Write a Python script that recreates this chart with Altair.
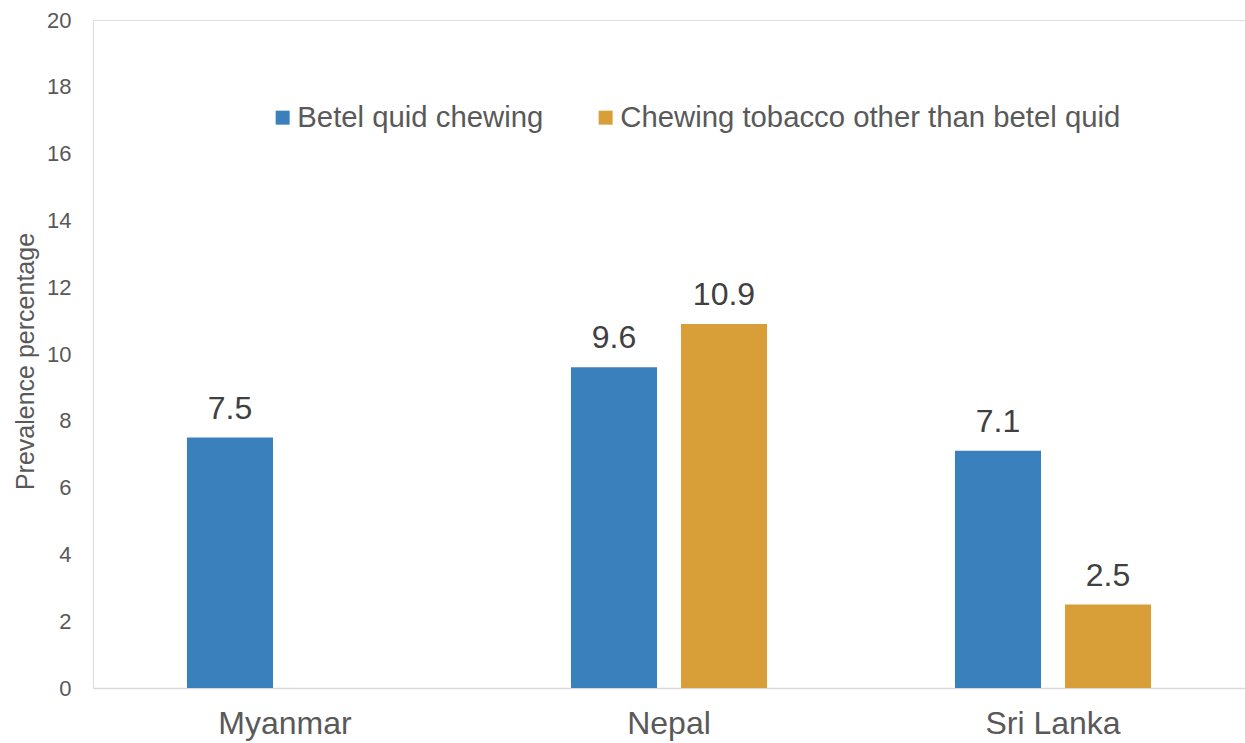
import altair as alt
import pandas as pd

countries = ["Myanmar", "Nepal", "Sri Lanka"]
series = ["Betel quid chewing", "Chewing tobacco other than betel quid"]
betel = [7.5, 9.6, 7.1]
tobacco = [None, 10.9, 2.5]
colors = ["#3A80BC", "#D89F38"]
y_ticks = [0, 2, 4, 6, 8, 10, 12, 14, 16, 18, 20]

rows = []
for c, b, t in zip(countries, betel, tobacco):
    rows.append({"country": c, "series": series[0], "value": b})
    if t is not None:
        rows.append({"country": c, "series": series[1], "value": t})
df = pd.DataFrame(rows)

FONT = "Liberation Sans"
GRAY = "#595959"

base = alt.Chart(df).encode(
    x=alt.X("country:N", sort=countries,
            scale=alt.Scale(paddingInner=0, paddingOuter=0),
            axis=alt.Axis(title=None, labelAngle=0, labelFontSize=32, labelFont=FONT,
                          labelColor=GRAY, ticks=False, tickSize=0, labelPadding=20,
                          domainColor="#D9D9D9", domainWidth=1.5, grid=False)),
    xOffset=alt.XOffset("series:N", sort=series,
                        scale=alt.Scale(domain=series, paddingInner=0.218, paddingOuter=0.854)),
    y=alt.Y("value:Q", scale=alt.Scale(domain=[0, 20], nice=False),
            axis=alt.Axis(title="Prevalence percentage", values=y_ticks, grid=False,
                          domain=False, ticks=False, labelFontSize=22, labelFont=FONT,
                          labelColor=GRAY, labelPadding=22, titleFontSize=25,
                          titleFont=FONT, titleColor=GRAY, titleFontWeight="normal",
                          titleX=-68, titleY=341, titleAlign="center",
                          titleBaseline="middle", titleAngle=270)),
)

bars = base.mark_bar().encode(
    color=alt.Color("series:N", sort=series,
                    scale=alt.Scale(domain=series, range=colors),
                    legend=alt.Legend(title=None, orient="none", legendX=175, legendY=83,
                                      direction="horizontal", columns=2,
                                      symbolType="square", symbolSize=196,
                                      symbolStrokeWidth=0, labelFontSize=29.3,
                                      labelFont=FONT, labelColor=GRAY,
                                      labelOffset=0, columnPadding=47, padding=0,
                                      labelLimit=1000))
)

labels = base.mark_text(dy=-19, baseline="alphabetic", fontSize=32, font=FONT,
                        color="#404040").encode(text=alt.Text("value:Q", format=".1f"))

chart = (bars + labels).properties(
    width=1152, height=668,
    autosize=alt.AutoSizeParams(type="none"),
    padding={"left": 93, "top": 20, "right": 0, "bottom": 55},
).configure_view(stroke=None).configure(background="white")

chart.save("out.html", embed_options={"renderer": "svg", "actions": False})
